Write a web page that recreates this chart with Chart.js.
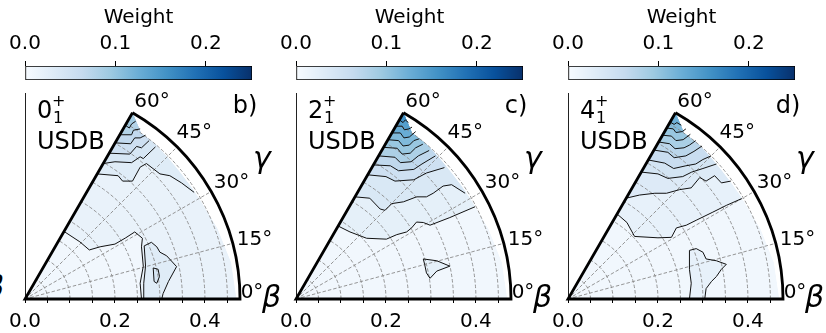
<!DOCTYPE html>
<html>
<head>
<meta charset="utf-8">
<script src="https://cdn.jsdelivr.net/npm/chart.js@4.4.0/dist/chart.umd.min.js"></script>
<style>
  html, body { margin: 0; padding: 0; background: #fff; width: 826px; height: 333px; overflow: hidden; position: relative; }
  canvas { position: absolute; }
  .cut { position: absolute; left: -15px; top: 272px; font: italic 30px "DejaVu Sans", sans-serif; line-height: 30px; color: #000; }
</style>
</head>
<body>
<span class="cut">β</span>
<script>
// ---- values drawn in the three beta-gamma panels ----
const spinLabels   = ['0', '2', '4'];
const modelLabel   = 'USDB';
const panelLetters = ['b)', 'c)', 'd)'];

const weightTicks = [0.0, 0.1, 0.2];
const weightMax   = 0.251;

const betaMax   = 0.478;
const betaTicks = [0.0, 0.2, 0.4];
const betaGrid  = [0.05, 0.10, 0.15, 0.20, 0.25, 0.30, 0.35, 0.40, 0.45];
const gammaTicks = [0, 15, 30, 45, 60];

// region of the (beta cos g, beta sin g) plane covered by the calculation
const coverage = [[0, 0], [0.470, 0], [0.458, 0.081], [0.428, 0.156], [0.387, 0.224], [0.365, 0.255],
                  [0.341, 0.286], [0.316, 0.316], [0.289, 0.345], [0.258, 0.369], [0.239, 0.414]];

const baseWeight = [0.008, 0.008, 0.008];
const levelStep  = [0.012, 0.015, 0.013];

// contour lines: level, how the line meets the boundary, points (beta cos g, beta sin g)
const contoursB = [
  { level: 0.012, kind: 'below', pts: [[0.087,0.150],[0.122,0.127],[0.143,0.109],[0.167,0.116],[0.200,0.122],[0.224,0.136],[0.244,0.149],[0.261,0.135],[0.259,0.116],[0.263,0.073],[0.256,0.035],[0.259,0]] },
  { level: 0.024, kind: 'axis',  pts: [[0.264,0],[0.264,0.035],[0.268,0.073],[0.265,0.118],[0.281,0.126],[0.293,0.116],[0.300,0.104],[0.315,0.096],[0.337,0.072],[0.319,0.039],[0.307,0.012],[0.304,0]] },
  { level: 0.036, kind: 'loop',  pts: [[0.285,0.069],[0.296,0.066],[0.299,0.050],[0.293,0.035],[0.287,0.039],[0.285,0.069]] },
  { level: 0.024, kind: 'top',   pts: [[0.160,0.278],[0.207,0.274],[0.217,0.262],[0.239,0.262],[0.256,0.293],[0.270,0.301],[0.300,0.278],[0.322,0.274],[0.348,0.258],[0.376,0.237]] },
  { level: 0.036, kind: 'top',   pts: [[0.174,0.301],[0.200,0.305],[0.237,0.303],[0.256,0.316],[0.263,0.312],[0.290,0.338]] },
  { level: 0.048, kind: 'top',   pts: [[0.187,0.324],[0.233,0.322],[0.248,0.339],[0.259,0.336],[0.276,0.352]] },
  { level: 0.060, kind: 'top',   pts: [[0.200,0.347],[0.235,0.345],[0.244,0.358],[0.256,0.358],[0.268,0.364]] },
  { level: 0.072, kind: 'top',   pts: [[0.211,0.365],[0.237,0.365],[0.241,0.375],[0.256,0.378]] },
  { level: 0.084, kind: 'top',   pts: [[0.223,0.386],[0.232,0.380],[0.237,0.389],[0.246,0.395]] }
];

const contoursC = [
  { level: 0.015, kind: 'top',  pts: [[0.094,0.162],[0.120,0.149],[0.157,0.135],[0.201,0.133],[0.224,0.143],[0.246,0.149],[0.257,0.158],[0.268,0.171],[0.283,0.170],[0.298,0.164],[0.342,0.181],[0.398,0.205]] },
  { level: 0.015, kind: 'loop', pts: [[0.283,0.089],[0.313,0.085],[0.342,0.073],[0.313,0.062],[0.298,0.046],[0.290,0.058],[0.286,0.077],[0.283,0.089]] },
  { level: 0.030, kind: 'top',  pts: [[0.131,0.227],[0.164,0.224],[0.187,0.200],[0.198,0.197],[0.213,0.212],[0.239,0.216],[0.268,0.227],[0.290,0.227],[0.305,0.235],[0.327,0.251],[0.346,0.254],[0.376,0.235]] },
  { level: 0.045, kind: 'top',  pts: [[0.159,0.276],[0.200,0.272],[0.220,0.262],[0.262,0.265],[0.290,0.280],[0.330,0.292]] },
  { level: 0.060, kind: 'top',  pts: [[0.172,0.298],[0.210,0.296],[0.228,0.285],[0.262,0.288],[0.280,0.300],[0.310,0.318]] },
  { level: 0.075, kind: 'top',  pts: [[0.184,0.318],[0.220,0.315],[0.232,0.303],[0.256,0.305],[0.272,0.318],[0.296,0.330]] },
  { level: 0.090, kind: 'top',  pts: [[0.195,0.337],[0.225,0.335],[0.236,0.322],[0.254,0.324],[0.266,0.336],[0.282,0.344]] },
  { level: 0.105, kind: 'top',  pts: [[0.204,0.354],[0.228,0.352],[0.238,0.340],[0.252,0.342],[0.262,0.352],[0.274,0.356]] },
  { level: 0.120, kind: 'top',  pts: [[0.213,0.369],[0.232,0.369],[0.240,0.358],[0.252,0.360],[0.266,0.372]] },
  { level: 0.135, kind: 'top',  pts: [[0.222,0.384],[0.236,0.384],[0.241,0.376],[0.251,0.378],[0.258,0.382]] },
  { level: 0.150, kind: 'top',  pts: [[0.230,0.398],[0.238,0.392],[0.243,0.398],[0.250,0.392]] }
];

const contoursD = [
  { level: 0.013, kind: 'top',  pts: [[0.109,0.189],[0.131,0.170],[0.148,0.139],[0.200,0.136],[0.230,0.137],[0.241,0.158],[0.263,0.164],[0.285,0.175],[0.322,0.193],[0.352,0.208],[0.386,0.223]] },
  { level: 0.013, kind: 'axis', pts: [[0.270,0],[0.274,0.035],[0.270,0.066],[0.270,0.108],[0.285,0.112],[0.300,0.104],[0.307,0.089],[0.330,0.085],[0.352,0.077],[0.341,0.066],[0.330,0.050],[0.319,0.039],[0.307,0.023],[0.304,0]] },
  { level: 0.026, kind: 'top',  pts: [[0.129,0.224],[0.159,0.231],[0.193,0.235],[0.219,0.235],[0.248,0.243],[0.274,0.247],[0.293,0.270],[0.307,0.262],[0.326,0.274],[0.341,0.258],[0.362,0.262]] },
  { level: 0.039, kind: 'top',  pts: [[0.163,0.282],[0.200,0.278],[0.222,0.268],[0.255,0.272],[0.275,0.282],[0.300,0.290],[0.330,0.300]] },
  { level: 0.052, kind: 'top',  pts: [[0.178,0.309],[0.215,0.302],[0.235,0.290],[0.262,0.296],[0.284,0.300],[0.300,0.310],[0.318,0.318]] },
  { level: 0.065, kind: 'top',  pts: [[0.191,0.331],[0.222,0.326],[0.236,0.314],[0.262,0.318],[0.280,0.328],[0.298,0.340]] },
  { level: 0.078, kind: 'top',  pts: [[0.201,0.349],[0.226,0.345],[0.238,0.334],[0.258,0.336],[0.270,0.342],[0.284,0.352]] },
  { level: 0.091, kind: 'top',  pts: [[0.210,0.364],[0.230,0.362],[0.240,0.352],[0.256,0.354],[0.272,0.366]] },
  { level: 0.104, kind: 'top',  pts: [[0.219,0.380],[0.234,0.378],[0.240,0.370],[0.254,0.372],[0.262,0.378]] },
  { level: 0.117, kind: 'top',  pts: [[0.227,0.393],[0.236,0.388],[0.242,0.392],[0.252,0.386]] }
];

const panelContours = [contoursB, contoursC, contoursD];

// ---- drawing ----
const FONT = '"DejaVu Sans", sans-serif';
Chart.defaults.font.family = FONT;
Chart.defaults.color = '#000';

const BLUES = ['#f7fbff', '#deebf7', '#c6dbef', '#9ecae1', '#6baed6', '#4292c6', '#2171b5', '#08519c', '#08306b'];
function hexRgb(h) { return [parseInt(h.slice(1, 3), 16), parseInt(h.slice(3, 5), 16), parseInt(h.slice(5, 7), 16)]; }
function blues(w) {
  const t = Math.max(0, Math.min(1, w / weightMax)) * (BLUES.length - 1);
  const k = Math.min(BLUES.length - 2, Math.floor(t)), f = t - k;
  const a = hexRgb(BLUES[k]), b = hexRgb(BLUES[k + 1]);
  return 'rgb(' + a.map((v, j) => Math.round(v + (b[j] - v) * f)).join(',') + ')';
}

const panelLeft = [0, 271, 543];
const DEG = Math.PI / 180;

function addCanvas(left, top, w, h) {
  const c = document.createElement('canvas');
  c.width = w; c.height = h;
  c.style.left = left + 'px'; c.style.top = top + 'px';
  document.body.appendChild(c);
  return c;
}

function text(ctx, s, x, y, font, align, base) {
  ctx.font = font; ctx.textAlign = align; ctx.textBaseline = base; ctx.fillStyle = '#000';
  ctx.fillText(s, x, y);
}

function wedgePlugin(i) {
  const contours = panelContours[i];
  return {
    id: 'wedge' + i,
    beforeDatasetsDraw(chart) {
      const { ctx, scales: { x, y } } = chart;
      const P = (a, b) => [x.getPixelForValue(a), y.getPixelForValue(b)];
      const ox = x.getPixelForValue(0), oy = y.getPixelForValue(0);
      const pxu = x.getPixelForValue(1) - ox;
      const path = pts => { ctx.beginPath(); pts.forEach((p, k) => { const q = P(p[0], p[1]); k ? ctx.lineTo(q[0], q[1]) : ctx.moveTo(q[0], q[1]); }); ctx.closePath(); };

      // filled weight bands
      ctx.save();
      path(coverage);
      ctx.clip();
      ctx.fillStyle = blues(baseWeight[i]);
      ctx.fill();
      contours.slice().sort((a, b) => a.level - b.level).forEach(c => {
        const pts = c.pts.slice();
        if (c.kind === 'top') {
          const l = pts[pts.length - 1];
          pts.push([l[0] * 1.8, l[1] * 1.8], [0.8, 0.9], [-0.2, 0.6]);
        } else if (c.kind === 'below') {
          pts.push([0.8, -0.1], [0.8, 0.9], [-0.2, 0.6]);
        }
        path(pts);
        ctx.fillStyle = blues(c.level + levelStep[i] / 2);
        ctx.fill();
      });
      ctx.restore();

      // dashed polar grid
      ctx.save();
      ctx.strokeStyle = '#8a8a8a';
      ctx.lineWidth = 0.9;
      ctx.setLineDash([3.5, 2]);
      betaGrid.forEach(r => {
        ctx.beginPath();
        ctx.arc(ox, oy, r * pxu, 0, -60 * DEG, true);
        ctx.stroke();
      });
      gammaTicks.filter(g => g > 0 && g < 60).forEach(g => {
        ctx.beginPath();
        ctx.moveTo(ox, oy);
        ctx.lineTo(ox + betaMax * pxu * Math.cos(g * DEG), oy - betaMax * pxu * Math.sin(g * DEG));
        ctx.stroke();
      });
      ctx.restore();
    },
    afterDatasetsDraw(chart) {
      const { ctx, scales: { x, y } } = chart;
      const ox = x.getPixelForValue(0), oy = y.getPixelForValue(0);
      const R = betaMax * (x.getPixelForValue(1) - ox);

      // wedge frame
      ctx.save();
      ctx.strokeStyle = '#000';
      ctx.lineWidth = 2.8;
      ctx.lineJoin = 'miter';
      ctx.beginPath();
      ctx.moveTo(ox + R * Math.cos(60 * DEG), oy - R * Math.sin(60 * DEG));
      ctx.lineTo(ox, oy);
      ctx.lineTo(ox + R, oy);
      ctx.arc(ox, oy, R, 0, -60 * DEG, true);
      ctx.stroke();
      ctx.restore();

      // gamma tick labels
      const f20 = '20px ' + FONT;
      gammaTicks.forEach(g => {
        let px, py;
        if (g === 0) { px = ox + R + 12; py = oy - 6; }
        else if (g === 60) { px = ox + 127; py = oy - 197; }
        else { const rr = R + 22, a = (g - 0.6) * DEG; px = ox + rr * Math.cos(a); py = oy - rr * Math.sin(a); }
        text(ctx, g + '°', px, py, f20, 'center', 'middle');
      });

      // axis symbols
      text(ctx, 'β', ox + R + 22, oy + 8, 'italic 30px ' + FONT, 'left', 'alphabetic');
      text(ctx, 'γ', ox + R + 22, oy - 131, 'italic 30px ' + FONT, 'center', 'alphabetic');

      // state and interaction labels
      text(ctx, spinLabels[i], ox + 12, oy - 181, '24px ' + FONT, 'left', 'alphabetic');
      text(ctx, '+', ox + 27, oy - 193, '16px ' + FONT, 'left', 'alphabetic');
      text(ctx, '1', ox + 28, oy - 176, '16px ' + FONT, 'left', 'alphabetic');
      text(ctx, modelLabel, ox + 12, oy - 150, '24px ' + FONT, 'left', 'alphabetic');
      text(ctx, panelLetters[i], ox + 220, oy - 186, '24px ' + FONT, 'center', 'alphabetic');
    }
  };
}

function wedgeChart(i) {
  const canvas = addCanvas(panelLeft[i], 85, 290, 248);
  const datasets = panelContours[i].map(c => ({
    data: c.pts.map(p => ({ x: p[0], y: p[1] })),
    showLine: true, pointRadius: 0, pointHoverRadius: 0,
    borderColor: '#111', borderWidth: 1, tension: 0, fill: false
  }));
  return new Chart(canvas, {
    type: 'scatter',
    data: { datasets },
    options: {
      responsive: false, animation: false, devicePixelRatio: 1, events: [],
      layout: { padding: { left: 0, right: 50, top: 8, bottom: 0 } },
      plugins: { legend: { display: false }, tooltip: { enabled: false } },
      scales: {
        x: {
          type: 'linear', min: 0, max: betaMax,
          afterFit: s => { s.height = 34; },
          ticks: {
            stepSize: 0.05, includeBounds: false, autoSkip: false, maxRotation: 0, padding: 7,
            color: '#000', font: { family: FONT, size: 20 },
            callback: v => betaTicks.some(t => Math.abs(t - v) < 1e-6) ? v.toFixed(1) : ''
          },
          grid: { drawOnChartArea: false, drawTicks: true, tickLength: 4, color: '#000', lineWidth: 1 },
          border: { display: false }
        },
        y: {
          type: 'linear', min: 0, max: 206 / 450,
          afterFit: s => { s.width = 25; },
          ticks: { display: false },
          grid: { display: false },
          border: { display: true, color: '#222', width: 1 }
        }
      }
    },
    plugins: [wedgePlugin(i)]
  });
}

function colorbarChart(i) {
  const canvas = addCanvas(panelLeft[i], 0, 290, 85);
  return new Chart(canvas, {
    type: 'bar',
    data: {
      labels: ['Weight'],
      datasets: [{
        data: [[0, weightMax]],
        backgroundColor: c => {
          const ca = c.chart.chartArea;
          if (!ca) return BLUES[0];
          const g = c.chart.ctx.createLinearGradient(ca.left, 0, ca.right, 0);
          BLUES.forEach((col, k) => g.addColorStop(k / (BLUES.length - 1), col));
          return g;
        },
        borderColor: '#000', borderWidth: 1, borderSkipped: false,
        barPercentage: 1, categoryPercentage: 1
      }]
    },
    options: {
      indexAxis: 'y', responsive: false, animation: false, devicePixelRatio: 1, events: [],
      layout: { padding: { left: 25, right: 38, top: 0, bottom: 5 } },
      plugins: { legend: { display: false }, tooltip: { enabled: false } },
      scales: {
        x: {
          type: 'linear', position: 'top', min: 0, max: weightMax,
          afterFit: s => { s.height = 66; },
          afterBuildTicks: s => { s.ticks = weightTicks.map(v => ({ value: v })); },
          ticks: { padding: 5, color: '#000', font: { family: FONT, size: 20 }, callback: v => v.toFixed(1) },
          grid: { drawOnChartArea: false, drawTicks: true, tickLength: 5, color: '#000' },
          border: { display: false },
          title: { display: true, text: 'Weight', color: '#000', font: { family: FONT, size: 20 }, padding: { top: 6, bottom: 0 } }
        },
        y: { display: false }
      }
    }
  });
}

for (let i = 0; i < 3; i++) {
  colorbarChart(i);
  wedgeChart(i);
}
</script>
</body>
</html>
